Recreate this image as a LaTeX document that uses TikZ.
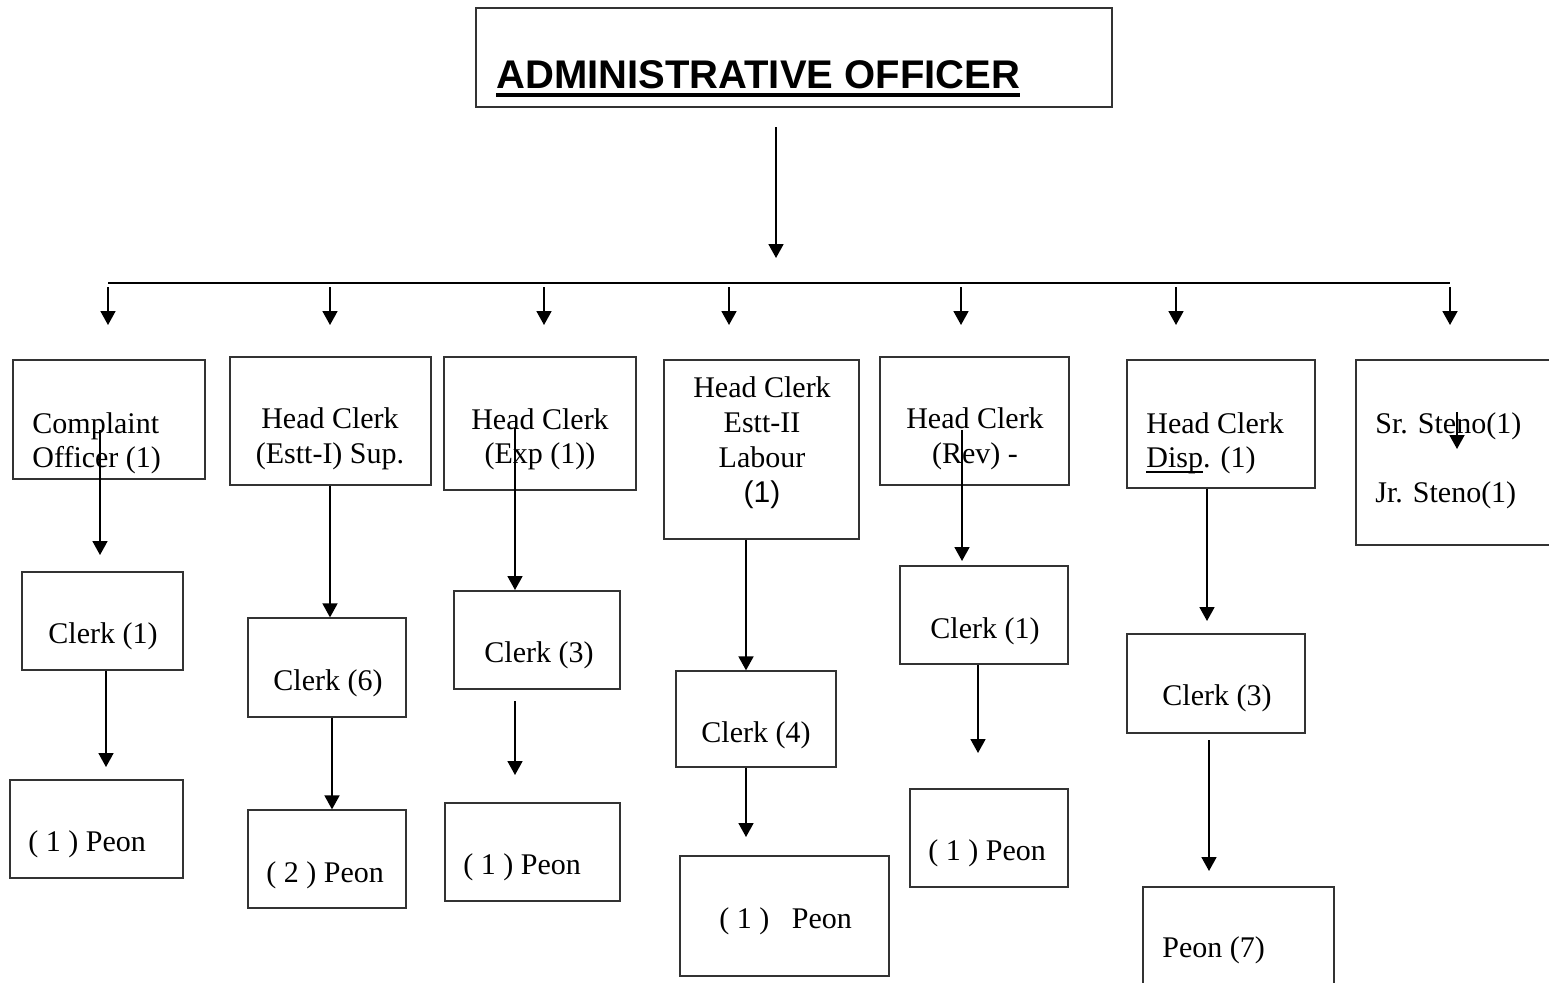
\documentclass[tikz,border=0pt]{standalone}
\usepackage{fontspec}
\setmainfont{Liberation Serif}
\newfontfamily\arialf{Liberation Sans}
\usetikzlibrary{arrows.meta}
\newcommand\ulx[1]{\setbox0\hbox{#1}\rlap{\vrule height -1.9pt depth 2.8pt width \wd0}\box0}
\newcommand\mkbox[5]{\node[box, minimum width={(#4-#2)*0.5pt}, minimum height={(#5-#3)*0.5pt}] (#1) at ({(#2+#4)/2},{(#3+#5)/2}) {};}
\tikzset{
  box/.style={draw=black!80, line width=0.65pt, inner sep=0pt},
  txt/.style={inner sep=0pt, anchor=base west, font=\fontsize{15pt}{17pt}\selectfont},
  ctxt/.style={txt, anchor=base},
  arr/.style={line width=0.9pt, -{Triangle[width=7.5pt,length=7pt]}},
}
\begin{document}
\begin{tikzpicture}[x=0.5pt,y=-0.5pt]
\clip (0,0) rectangle (1549,982);
\fill[white] (0,0) rectangle (1549,982);

% ---- boxes ----
\mkbox{ao}{476}{8}{1112}{107}
\mkbox{hb1}{13}{360}{205}{479}
\mkbox{hb2}{230}{357}{431}{485}
\mkbox{hb3}{444}{357}{636}{490}
\mkbox{hb4}{664}{360}{859}{539}
\mkbox{hb5}{880}{357}{1069}{485}
\mkbox{hb6}{1127}{360}{1315}{488}
\mkbox{hb7}{1356}{360}{1570}{545}
\mkbox{cb1}{22}{572}{183}{670}
\mkbox{cb2}{248}{618}{406}{717}
\mkbox{cb3}{454}{591}{620}{689}
\mkbox{cb4}{676}{671}{836}{767}
\mkbox{cb5}{900}{566}{1068}{664}
\mkbox{cb6}{1127}{634}{1305}{733}
\mkbox{pb1}{10}{780}{183}{878}
\mkbox{pb2}{248}{810}{406}{908}
\mkbox{pb3}{445}{803}{620}{901}
\mkbox{pb4}{680}{856}{889}{976}
\mkbox{pb5}{910}{789}{1068}{887}
\mkbox{pb6}{1143}{887}{1334}{1010}

% ---- texts ----
\node[inner sep=0pt, anchor=base west, font=\arialf\bfseries\fontsize{20pt}{24pt}\selectfont] (title) at (496,88) {ADMINISTRATIVE OFFICER};
\draw[line width=1.9pt] ([yshift=-3.6pt]title.base west) -- ([yshift=-3.6pt]title.base east);

\node[txt] (t1a) at (32,433) {Complaint};
\node[txt] (t1b) at (32,467) {Officer (1)};
\node[ctxt] (t2a) at (330,428) {Head Clerk};
\node[ctxt] (t2b) at (330,463) {(Estt-I) Sup.};
\node[ctxt] (t3a) at (540,429) {Head Clerk};
\node[ctxt] (t3b) at (540,463) {(Exp (1))};
\node[ctxt] (t4a) at (762,397) {Head Clerk};
\node[ctxt] (t4b) at (762,432) {Estt-II};
\node[ctxt] (t4c) at (762,467) {Labour};
\node[ctxt, font=\arialf\fontsize{15pt}{17pt}\selectfont] (t4d) at (762,502) {(1)};
\node[ctxt] (t5a) at (975,428) {Head Clerk};
\node[ctxt] (t5b) at (975,463) {(Rev) -};
\node[txt] (t6a) at (1146,433) {Head Clerk};
\node[txt] (t6b) at (1146,467) {\ulx{Disp}. (1)};
\node[txt] (t7a) at (1375,433) {Sr. Steno(1)};
\node[txt] (t7b) at (1375,502) {Jr. Steno(1)};

\node[txt] (u1) at (48,643) {Clerk (1)};
\node[txt] (u2) at (273,690) {Clerk (6)};
\node[txt] (u3) at (484,662) {Clerk (3)};
\node[txt] (u4) at (701,742) {Clerk (4)};
\node[txt] (u5) at (930,638) {Clerk (1)};
\node[txt] (u6) at (1162,705) {Clerk (3)};

\node[txt] (v1) at (28,851) {( 1 ) Peon};
\node[txt] (v2) at (266,882) {( 2 ) Peon};
\node[txt] (v3) at (463,874) {( 1 ) Peon};
\node[txt] (v4) at (719,928) {( 1 ) \ \ Peon};
\node[txt] (v5) at (928,860) {( 1 ) Peon};
\node[txt] (v6) at (1162,957) {Peon (7)};

% ---- connector end points ----
\coordinate (s0) at (776,127);
\coordinate (e0) at (776,258);
\coordinate (busL) at (108,283);
\coordinate (busR) at (1450,283);
\foreach \i/\x in {1/108,2/330,3/544,4/729,5/961,6/1176,7/1450}{
  \coordinate (bs\i) at (\x,287);
  \coordinate (be\i) at (\x,325);
}
\coordinate (a1s) at (100,430);  \coordinate (a1e) at (100,555);
\coordinate (d1e) at (106,767);
\coordinate (a3s) at (515,428);  \coordinate (a3e) at (515,590);
\coordinate (d3s) at (515,701);  \coordinate (d3e) at (515,775);
\coordinate (d4e) at (746,837);
\coordinate (a5s) at (962,430);  \coordinate (a5e) at (962,561);
\coordinate (d5e) at (978,753);
\coordinate (a6e) at (1207,621);
\coordinate (d6s) at (1209,740); \coordinate (d6e) at (1209,871);
\coordinate (a7s) at (1457,412); \coordinate (a7e) at (1457,449);

% ---- connectors ----
\draw[arr] (s0) -- (e0);
\draw[line width=0.9pt] (busL) -- (busR);
\foreach \i in {1,...,7}{ \draw[arr] (bs\i) -- (be\i); }

\draw[arr] (a1s) -- (a1e);
\draw[arr] (cb1.south -| d1e) -- (d1e);
\draw[arr] (hb2.south -| 330,0) -- (cb2.north -| 330,0);
\draw[arr] (cb2.south -| 332,0) -- (pb2.north -| 332,0);
\draw[arr] (a3s) -- (a3e);
\draw[arr] (d3s) -- (d3e);
\draw[arr] (hb4.south -| 746,0) -- (cb4.north -| 746,0);
\draw[arr] (cb4.south -| d4e) -- (d4e);
\draw[arr] (a5s) -- (a5e);
\draw[arr] (cb5.south -| d5e) -- (d5e);
\draw[arr] (hb6.south -| a6e) -- (a6e);
\draw[arr] (d6s) -- (d6e);
\draw[arr] (a7s) -- (a7e);
\end{tikzpicture}
\end{document}
